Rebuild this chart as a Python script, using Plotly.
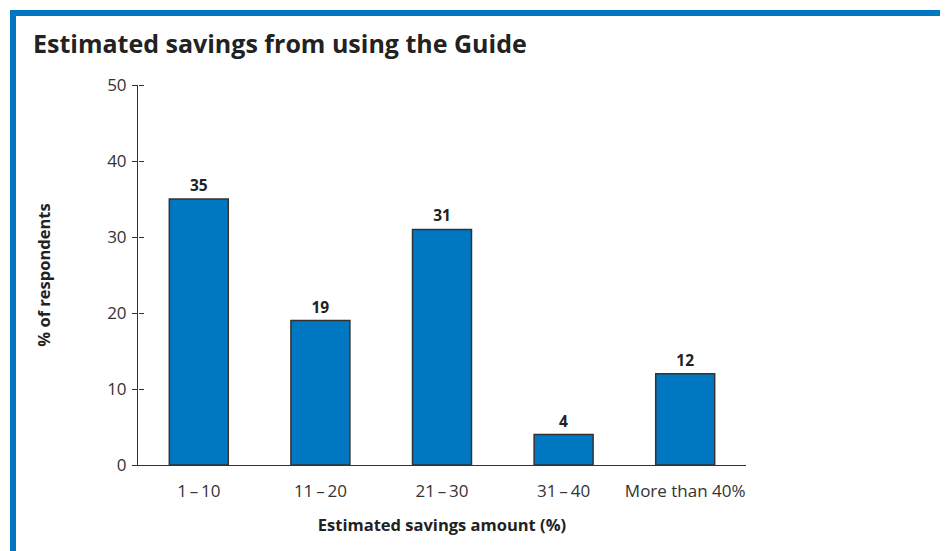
import plotly.graph_objects as go

categories = ["1\u2009\u2013\u200910", "11\u2009\u2013\u200920", "21\u2009\u2013\u200930", "31\u2009\u2013\u200940", "More than 40%"]
values = [35, 19, 31, 4, 12]
y_ticks = [0, 10, 20, 30, 40, 50]

BLUE = "#0077c1"
DARK = "#333333"
FONT = "Open Sans"

fig = go.Figure()
fig.add_trace(go.Bar(
    x=categories, y=values,
    marker=dict(color=BLUE, line=dict(color=DARK, width=1.5)),
    text=[str(v) for v in values], textposition="outside",
    textfont=dict(family=FONT, size=15.5, color="#222222", weight="bold"),
    cliponaxis=False, width=0.485,
))
# invisible trace on a second axis that carries the right half of the cross ticks
fig.add_trace(go.Scatter(x=categories, y=values, yaxis="y2", mode="markers",
                         marker=dict(opacity=0), hoverinfo="skip", showlegend=False))

OFF = 8  # page offset of the figure in the browser
L, R, T, B = 138 - OFF, 202 + OFF, 85 - OFF, 86 + OFF
W, H = 948, 551
pw, ph = W - L - R, H - T - B

fig.update_layout(
    width=W, height=H,
    margin=dict(l=L, r=R, t=T, b=B),
    paper_bgcolor="white", plot_bgcolor="white",
    showlegend=False,
    title=dict(text="Estimated savings from using the Guide",
               font=dict(family=FONT, size=25, color="#222222", weight="bold"),
               x=(33 - OFF) / W, xanchor="left", xref="container",
               y=1 - (44 - OFF) / H, yanchor="middle", yref="container"),
    xaxis=dict(range=[-0.5, 4.5], showline=True, linecolor=DARK, linewidth=1,
               ticks="", showgrid=False, zeroline=False, ticklabelstandoff=11,
               tickfont=dict(family=FONT, size=17, color=DARK),
               title=dict(text="Estimated savings amount (%)", standoff=18,
                          font=dict(family=FONT, size=16.5, color="#222222", weight="bold"))),
    yaxis=dict(range=[0, 50], tickvals=y_ticks, showline=True, linecolor=DARK, linewidth=1,
               ticks="outside", ticklen=5, tickcolor=DARK, tickwidth=1,
               showgrid=False, zeroline=False, ticklabelstandoff=2,
               tickfont=dict(family=FONT, size=17, color=DARK),
               title=dict(text="% of respondents", standoff=52,
                          font=dict(family=FONT, size=16.5, color="#222222", weight="bold"))),
    yaxis2=dict(range=[0, 50], tickmode="array", tickvals=y_ticks, overlaying="y",
                side="right", anchor="free", position=0,
                ticks="outside", ticklen=5, tickcolor=DARK, tickwidth=1,
                showticklabels=False, showgrid=False, zeroline=False, showline=False),
    shapes=[dict(type="rect", xref="paper", yref="paper",
                 x0=(13 - OFF - L) / pw, x1=(1100 - L) / pw,
                 y0=(H - B - 700) / ph, y1=(H - B - (13 - OFF)) / ph,
                 line=dict(color=BLUE, width=6), fillcolor="rgba(0,0,0,0)", layer="below")],
)

fig.write_html("out.html")
